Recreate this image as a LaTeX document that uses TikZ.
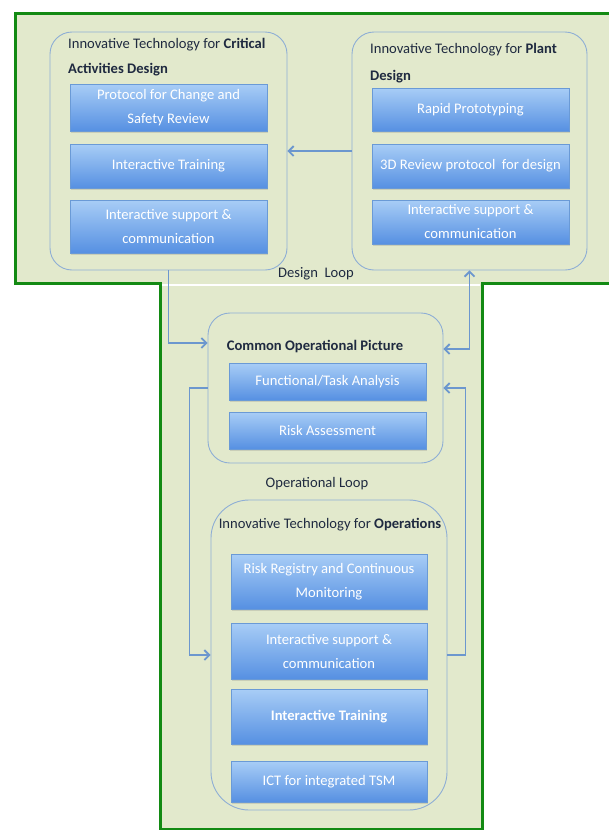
\documentclass[tikz,border=0pt]{standalone}
\usepackage{fontspec}
\setmainfont{Carlito}
\usetikzlibrary{arrows.meta,shadows}
\definecolor{bgfill}{HTML}{E2E9CC}
\definecolor{frame}{HTML}{138A13}
\definecolor{contline}{HTML}{8EAED5}
\definecolor{arrcol}{HTML}{6C97CE}
\definecolor{boxtop}{HTML}{A8CDF6}
\definecolor{boxbot}{HTML}{5690E2}
\definecolor{boxline}{HTML}{6A9AD6}
\definecolor{titlecol}{HTML}{1F2A40}
\tikzset{
  container/.style={draw=contline, line width=0.9pt, fill=bgfill, rounded corners=22pt, inner sep=0pt},
  bluebox/.style={draw=boxline, line width=0.6pt, top color=boxtop, bottom color=boxbot,
     text=white, font=\fontsize{14.6}{24}\selectfont, align=center, inner sep=0pt,
     drop shadow={opacity=0.25, shadow xshift=1pt, shadow yshift=-1.5pt}},
  titletext/.style={text=titlecol, font=\fontsize{14.6}{18}\selectfont, inner sep=0pt},
  arr/.style={draw=arrcol, line width=1.8pt, -{Straight Barb[length=5pt,width=10pt]}},
  darr/.style={draw=arrcol, line width=1.8pt, {Straight Barb[length=5pt,width=10pt]}-{Straight Barb[length=5pt,width=10pt]}},
  plain/.style={draw=arrcol, line width=1.8pt}
}
\begin{document}
\begin{tikzpicture}[x=1pt,y=-1pt]
\useasboundingbox (0,0) rectangle (608,830);
\fill[white] (0,0) rectangle (608,830);
% outer T frame
\draw[frame, line width=3pt, fill=bgfill] (15,13) -- (640,13) -- (640,283) -- (482,283) -- (482,829)
  -- (160,829) -- (160,283) -- (15,283) -- cycle;
\draw[white, line width=1.5pt] (162,285) -- (480,285);

% containers
\node[container, minimum width=237pt, minimum height=238pt] (L) at (168.5,151) {};
\node[container, minimum width=235pt, minimum height=238pt] (R) at (469.5,151) {};
\node[container, minimum width=235pt, minimum height=150pt] (C) at (325.5,388) {};
\node[container, minimum width=236pt, minimum height=310pt, rounded corners=38pt] (O) at (329,655) {};

% titles
\node[titletext, anchor=west] (Lt1) at (68,45) {Innovative Technology for \textbf{Critical}};
\node[titletext, anchor=west] (Lt2) at (68,70) {\textbf{Activities Design}};
\node[titletext, anchor=west] (Rt1) at (370,50) {Innovative Technology for \textbf{Plant}};
\node[titletext, anchor=west] (Rt2) at (370,77) {\textbf{Design}};
\node[titletext] (Ct) at (315,347) {\textbf{Common Operational Picture}};
\node[titletext] (Ot) at (330,525) {Innovative Technology for \textbf{Operations}};

% left boxes
\node[bluebox, minimum width=197pt, minimum height=47pt] (L1) at (168.5,107.5) {Protocol for Change and\\Safety Review};
\node[bluebox, minimum width=197pt, minimum height=44pt] (L2) at (168.5,166) {Interactive Training};
\node[bluebox, minimum width=197pt, minimum height=53pt] (L3) at (168.5,226.5) {Interactive support \&\\communication};
% right boxes
\node[bluebox, minimum width=197pt, minimum height=43pt] (R1) at (470.5,109.5) {Rapid Prototyping};
\node[bluebox, minimum width=197pt, minimum height=44pt] (R2) at (470.5,166) {3D Review protocol\ \ for design};
\node[bluebox, minimum width=197pt, minimum height=44pt] (R3) at (470.5,222) {Interactive support \&\\communication};
% common boxes
\node[bluebox, minimum width=197pt, minimum height=37pt] (C1) at (327.5,381.5) {Functional/Task Analysis};
\node[bluebox, minimum width=197pt, minimum height=37pt] (C2) at (327.5,430.5) {Risk Assessment};
% operations boxes
\node[bluebox, minimum width=196pt, minimum height=55pt] (O1) at (329,581.5) {Risk Registry and Continuous\\Monitoring};
\node[bluebox, minimum width=196pt, minimum height=56pt] (O2) at (329,651) {Interactive support \&\\communication};
\node[bluebox, minimum width=196pt, minimum height=55pt] (O3) at (329,716.5) {\textbf{Interactive Training}};
\node[bluebox, minimum width=196pt, minimum height=41pt] (O4) at (329,781.5) {ICT for integrated TSM};

% loop labels
\node[titletext] (DL) at (316,274) {Design\ \ Loop};
\node[titletext] (OL) at (317,484) {Operational Loop};

% connectors
\draw[arr] (R.west) -- (L.east);
\draw[arr] (L.south) |- ([yshift=45pt]C.west);
\draw[darr] (R.south) |- ([yshift=39pt]C.east);
\draw[arr] (C.west) -- ++(-18,0) |- (O.west);
\draw[arr] (O.east) -- ++(18,0) |- (C.east);
\end{tikzpicture}
\end{document}
